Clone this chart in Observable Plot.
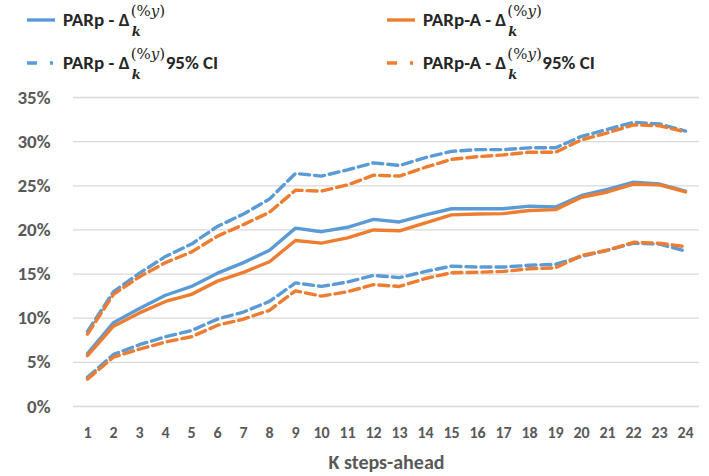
<!DOCTYPE html>
<html>
<head>
<meta charset="utf-8">
<script src="https://cdn.jsdelivr.net/npm/d3@7"></script>
<script src="https://cdn.jsdelivr.net/npm/@observablehq/plot@0.6"></script>
<style>
  html, body { margin: 0; padding: 0; background: #fff; }
  #wrap { position: relative; width: 709px; height: 476px; overflow: hidden; font-family: Carlito, Lato, sans-serif; }
  #legend { position: relative; width: 709px; height: 85px; }
  .item { position: absolute; height: 24px; white-space: nowrap; font-weight: bold; font-size: 19px; color: #262626; }
  .item svg { position: absolute; left: 0; top: 0; }
  .item .lbl { position: absolute; top: 0; line-height: 24px; }
  .m { display: inline-block; position: relative; width: 36px; height: 0; vertical-align: baseline; }
  .m .sup { position: absolute; left: 1px; top: -22px; line-height: 1; font-family: "DejaVu Serif", serif; font-weight: normal; font-size: 15px; }
  .m .sup i { font-style: italic; }
  .m .sub { position: absolute; left: 2px; top: -1px; line-height: 1; font-family: "DejaVu Serif", serif; font-style: italic; font-weight: bold; font-size: 13px; }
</style>
</head>
<body>
<div id="wrap">
  <div id="legend"></div>
  <div id="chart"></div>
</div>
<script>
// ---- data ----
const steps = [1,2,3,4,5,6,7,8,9,10,11,12,13,14,15,16,17,18,19,20,21,22,23,24];
const parp     = [6.0, 9.5, 11.1, 12.6, 13.6, 15.1, 16.3, 17.7, 20.2, 19.8, 20.3, 21.2, 20.9, 21.7, 22.4, 22.4, 22.4, 22.7, 22.6, 23.9, 24.6, 25.4, 25.2, 24.4];
const parpA    = [5.75, 9.1, 10.6, 11.9, 12.7, 14.2, 15.2, 16.4, 18.8, 18.5, 19.1, 20.0, 19.9, 20.8, 21.7, 21.8, 21.85, 22.2, 22.3, 23.7, 24.3, 25.2, 25.1, 24.3];
const parpUp   = [8.5, 13.0, 15.1, 17.0, 18.4, 20.4, 21.8, 23.5, 26.4, 26.1, 26.8, 27.6, 27.3, 28.2, 28.9, 29.1, 29.1, 29.3, 29.3, 30.6, 31.4, 32.2, 32.0, 31.2];
const parpLo   = [3.3, 5.9, 7.0, 7.9, 8.6, 9.9, 10.7, 11.9, 14.0, 13.6, 14.1, 14.85, 14.6, 15.3, 15.9, 15.8, 15.8, 16.0, 16.1, 17.0, 17.7, 18.5, 18.4, 17.6];
const parpAUp  = [8.2, 12.7, 14.7, 16.3, 17.5, 19.3, 20.6, 22.0, 24.5, 24.4, 25.1, 26.2, 26.1, 27.1, 28.0, 28.3, 28.5, 28.8, 28.8, 30.2, 31.0, 31.9, 31.8, 31.1];
const parpALo  = [3.1, 5.6, 6.5, 7.3, 7.9, 9.2, 9.9, 10.9, 13.1, 12.5, 13.0, 13.8, 13.6, 14.5, 15.15, 15.2, 15.3, 15.6, 15.7, 17.1, 17.7, 18.6, 18.5, 18.1];
const yTicks = [0, 5, 10, 15, 20, 25, 30, 35];
const xTitle = "K steps-ahead";

const BLUE = "#5B9BD5", ORANGE = "#ED7D31";

// ---- legend ----
const sup = '<span class="m"><span class="sup">(%<i>y</i>)</span><span class="sub">k</span></span>';
const legendItems = [
  {name: "PARp - Δ" + sup, color: BLUE, dashed: false, left: 27, top: 8},
  {name: "PARp-A - Δ" + sup, color: ORANGE, dashed: false, left: 387, top: 8},
  {name: "PARp - Δ" + sup + "95% CI", color: BLUE, dashed: true, left: 27, top: 51},
  {name: "PARp-A - Δ" + sup + "95% CI", color: ORANGE, dashed: true, left: 387, top: 51}
];
const legend = document.getElementById("legend");
for (const it of legendItems) {
  const d = document.createElement("div");
  d.className = "item";
  d.style.left = it.left + "px";
  d.style.top = it.top + "px";
  const dash = it.dashed ? ' stroke-dasharray="10,13,3,20"' : '';
  d.innerHTML = `<svg width="30" height="24"><line x1="0" x2="28" y1="12" y2="12" stroke="${it.color}" stroke-width="3.4"${dash}/></svg><span class="lbl" style="left:36px">${it.name}</span>`;
  legend.appendChild(d);
}

// ---- chart ----
function series(vals, name) { return steps.map((k, i) => ({k, v: vals[i], s: name})); }
const solid = [...series(parp, "PARp"), ...series(parpA, "PARp-A")];
const ci = [
  ...series(parpUp, "PARp up"), ...series(parpLo, "PARp lo"),
  ...series(parpAUp, "PARp-A up"), ...series(parpALo, "PARp-A lo")
];
const colorOf = s => s.startsWith("PARp-A") ? ORANGE : BLUE;

const chart = Plot.plot({
  width: 709,
  height: 391,
  marginTop: 12,
  marginBottom: 70,
  marginLeft: 73,
  marginRight: 10,
  style: { fontFamily: "Carlito, Lato, sans-serif", color: "#595959", background: "#fff" },
  x: { type: "point", domain: steps, padding: 0.5, axis: null },
  y: { domain: [0, 35], axis: null },
  marks: [
    Plot.ruleY(yTicks, { stroke: "#d9d9d9", strokeWidth: 1.3 }),
    Plot.axisY({ ticks: yTicks, tickSize: 0, tickPadding: 23, tickFormat: d => d + "%", fontSize: 19, fontWeight: "bold", label: null }),
    Plot.axisX({ tickSize: 0, tickPadding: 20, fontSize: 16, fontWeight: "bold", label: null }),
    Plot.line(ci.filter(d => !d.s.startsWith("PARp-A")), { x: "k", y: "v", z: "s", stroke: BLUE, strokeWidth: 3.4, strokeDasharray: "10,5" }),
    Plot.line(ci.filter(d => d.s.startsWith("PARp-A")), { x: "k", y: "v", z: "s", stroke: ORANGE, strokeWidth: 3.4, strokeDasharray: "10,5" }),
    Plot.line(solid, { x: "k", y: "v", z: "s", stroke: d => colorOf(d.s), strokeWidth: 3.4 }),
    Plot.text([xTitle], { frameAnchor: "bottom", dy: 62, fontSize: 20, fontWeight: "bold", fill: "#595959" })
  ]
});
document.getElementById("chart").appendChild(chart);
</script>
</body>
</html>
